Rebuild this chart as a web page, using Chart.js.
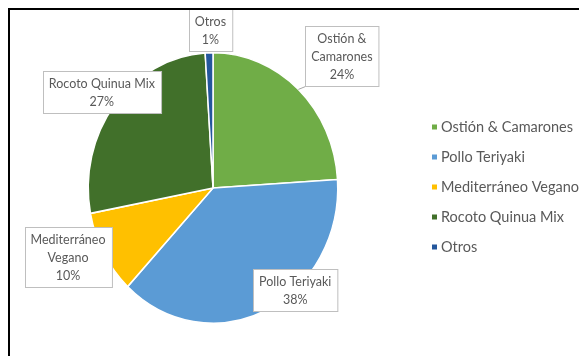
<!DOCTYPE html>
<html lang="es">
<head>
<meta charset="utf-8">
<title>Participación por producto</title>
<script src="https://cdn.jsdelivr.net/npm/chart.js@4.4.1/dist/chart.umd.min.js"></script>
<style>
    html, body {
        margin: 0;
        padding: 0;
        background: #ffffff;
    }
    .grafico-contenedor {
        position: relative;
        width: 579px;
        height: 356px;
        overflow: hidden;
    }
    /* marco negro del gráfico (solo se ven el borde izquierdo y el superior) */
    .marco {
        position: absolute;
        left: 8px;
        top: 8px;
        width: 600px;
        height: 400px;
        border-left: 2px solid #000;
        border-top: 2px solid #000;
        pointer-events: none;
    }
    canvas {
        position: absolute;
        left: 0;
        top: 0;
    }
</style>
</head>
<body>
<div class="grafico-contenedor">
    <canvas id="graficoPie" width="579" height="356"></canvas>
    <div class="marco"></div>
</div>

<script>
    // Datos del gráfico
    const categorias = ['Ostión & Camarones', 'Pollo Teriyaki', 'Mediterráneo Vegano', 'Rocoto Quinua Mix', 'Otros'];
    const porcentajes = [24, 38, 10, 27, 1];
    const colores = ['#70AD47', '#5B9BD5', '#FFC000', '#41702A', '#24579C'];
    // texto de cada caja, ya partido en líneas
    const rotulos = [['Ostión &', 'Camarones'], ['Pollo Teriyaki'], ['Mediterráneo', 'Vegano'], ['Rocoto Quinua Mix'], ['Otros']];

    const FUENTE = 'Lato, "Open Sans", sans-serif';
    const GRIS_TEXTO = '#595959';
    const ESTIRAR_Y = 1.084; // el pastel se ve un poco ovalado

    // ubicación de cada caja: [factor de radio, corrección de ángulo en grados]
    const ubicacionRotulos = [[1.42, 3.5], [1.0, -16], [1.27, 5], [1.14, 0.8], [1.17, 0.8]];

    // dibuja el pastel estirado en vertical
    const pastelOvalado = {
        id: 'pastelOvalado',
        beforeDatasetsDraw(chart) {
            const arco = chart.getDatasetMeta(0).data[0];
            const ctx = chart.ctx;
            ctx.save();
            ctx.translate(arco.x, arco.y);
            ctx.scale(1, ESTIRAR_Y);
            ctx.translate(-arco.x, -arco.y);
        },
        afterDatasetsDraw(chart) {
            chart.ctx.restore();
        },
    };

    // cajas con nombre y porcentaje
    const cajasRotulos = {
        id: 'cajasRotulos',
        afterDatasetsDraw(chart) {
            const ctx = chart.ctx;
            const arcos = chart.getDatasetMeta(0).data;
            ctx.save();
            ctx.font = '12.5px ' + FUENTE;
            ctx.textAlign = 'center';
            ctx.textBaseline = 'middle';

            arcos.forEach((arco, i) => {
                const lineas = rotulos[i].concat([porcentajes[i] + '%']);
                const [factor, ajuste] = ubicacionRotulos[i];
                const medio = (arco.startAngle + arco.endAngle) / 2;
                const ang = medio + ajuste * Math.PI / 180;
                const cx = arco.x + Math.cos(ang) * arco.outerRadius * factor;
                const cy = arco.y + Math.sin(ang) * arco.outerRadius * factor * ESTIRAR_Y;

                const altoLinea = 18;
                const ancho = Math.max(...lineas.map((l) => ctx.measureText(l).width)) + 12;
                const alto = lineas.length * altoLinea + 6;
                const x0 = Math.round(cx - ancho / 2) + 0.5;
                const y0 = Math.round(cy - alto / 2) + 0.5;

                // línea guía cuando la caja queda lejos del borde
                if (factor > 1.35) {
                    const bx = arco.x + Math.cos(medio) * arco.outerRadius;
                    const by = arco.y + Math.sin(medio) * arco.outerRadius * ESTIRAR_Y;
                    ctx.strokeStyle = '#a6a6a6';
                    ctx.lineWidth = 1;
                    ctx.beginPath();
                    ctx.moveTo(x0, y0 + alto);
                    ctx.lineTo(bx, by);
                    ctx.stroke();
                }

                ctx.fillStyle = '#ffffff';
                ctx.fillRect(x0, y0, ancho, alto);
                ctx.strokeStyle = '#bfbfbf';
                ctx.lineWidth = 1;
                ctx.strokeRect(x0, y0, ancho, alto);

                ctx.fillStyle = GRIS_TEXTO;
                lineas.forEach((linea, j) => {
                    ctx.fillText(linea, cx, y0 + 3 + altoLinea * (j + 0.5));
                });
            });
            ctx.restore();
        },
    };

    // leyenda a la derecha
    const leyendaDerecha = {
        id: 'leyendaDerecha',
        afterDraw(chart) {
            const ctx = chart.ctx;
            ctx.save();
            ctx.font = '14.5px ' + FUENTE;
            ctx.textAlign = 'left';
            ctx.textBaseline = 'middle';
            categorias.forEach((nombre, i) => {
                const y = 127 + i * 30;
                ctx.fillStyle = colores[i];
                ctx.fillRect(432, y - 2.5, 5, 5);
                ctx.fillStyle = GRIS_TEXTO;
                ctx.fillText(nombre, 441, y);
            });
            ctx.restore();
        },
    };

    const ctx = document.getElementById('graficoPie').getContext('2d');
    new Chart(ctx, {
        type: 'pie',
        data: {
            labels: categorias,
            datasets: [
                {
                    data: porcentajes,
                    backgroundColor: colores,
                    borderColor: '#ffffff',
                    borderWidth: 1.5,
                    hoverOffset: 0,
                    clip: false,
                },
            ],
        },
        options: {
            responsive: false,
            animation: false,
            events: [],
            layout: {
                padding: { left: 87.5, right: 240.5, top: 52, bottom: 32 },
            },
            plugins: {
                legend: { display: false },
                tooltip: { enabled: false },
            },
        },
        plugins: [pastelOvalado, cajasRotulos, leyendaDerecha],
    });
</script>
</body>
</html>
